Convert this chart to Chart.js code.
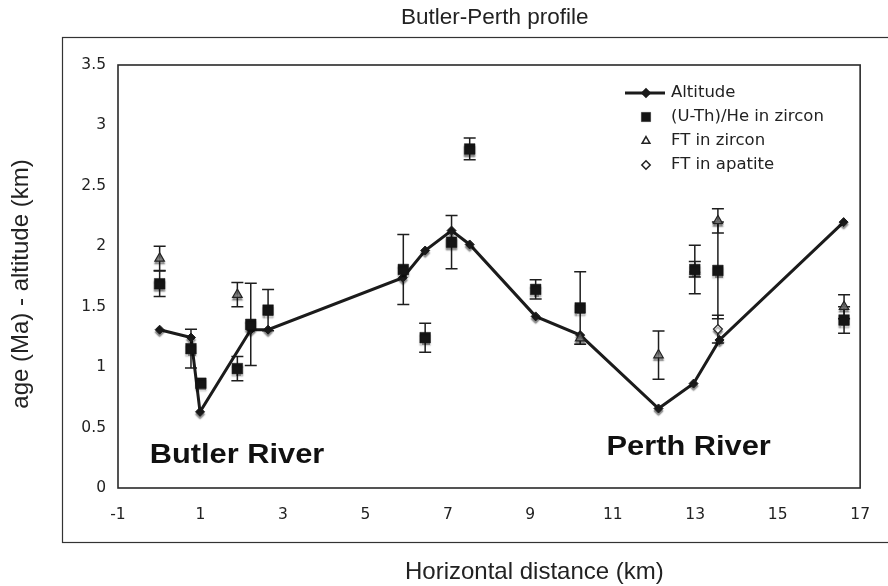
<!DOCTYPE html>
<html><head><meta charset="utf-8">
<script src="https://cdn.jsdelivr.net/npm/chart.js@4/dist/chart.umd.min.js"></script>
<style>html,body{margin:0;padding:0;background:#fff;}#wrap{width:888px;height:586px;}</style>
</head><body><div id="wrap"><canvas id="c" width="888" height="586"></canvas></div>
<script>
// ---------- data ----------
const chartTitle = 'Butler-Perth profile';
const xAxisTitle = 'Horizontal distance (km)';
const yAxisTitle = 'age (Ma) - altitude (km)';
const xTickValues = [-1, 1, 3, 5, 7, 9, 11, 13, 15, 17];
const yTickValues = [0, 0.5, 1, 1.5, 2, 2.5, 3, 3.5];
const seriesNames = ['Altitude', '(U-Th)/He in zircon', 'FT in zircon', 'FT in apatite'];

const altitudeX = [0.01, 0.77, 0.99, 2.22, 2.64, 5.91, 6.45, 7.09, 7.53, 9.13, 10.21, 12.11, 12.96, 13.59, 16.6];
const altitudeY = [1.31, 1.245, 0.63, 1.31, 1.31, 1.74, 1.965, 2.13, 2.015, 1.42, 1.265, 0.658, 0.864, 1.225, 2.2];

const heZirconX   = [0.01, 0.77, 1.01, 1.895, 2.22, 2.64, 5.92, 6.45, 7.09, 7.53, 9.13, 10.21, 12.99, 13.55, 16.61];
const heZirconY   = [1.69, 1.153, 0.867, 0.988, 1.354, 1.472, 1.808, 1.244, 2.034, 2.805, 1.643, 1.49, 1.808, 1.80, 1.39];
const heZirconErr = [0.105, 0.16, 0, 0.1, 0.34, 0.17, 0.29, 0.12, 0.22, 0.09, 0.08, 0.3, 0.2, 0.4, 0.11];

const ftZirconX   = [0.01, 1.895, 10.21, 12.11, 12.99, 13.55, 16.61];
const ftZirconY   = [1.90, 1.60, 1.24, 1.10, 1.81, 2.21, 1.50];
const ftZirconErr = [0.1, 0.1, 0, 0.2, 0.065, 0.1, 0.1];

const ftApatiteX   = [13.55];
const ftApatiteY   = [1.315];
const ftApatiteErr = [0.115];

const riverNames = ['Butler River', 'Perth River'];
const riverAnchorX = [-0.23, 10.85];
const riverAnchorY = [0.207, 0.273];

// ---------- helpers ----------
const pts = (xs, ys) => xs.map((x, i) => ({x: x, y: ys[i]}));
const INK = '#1b1b1b';

const datasets = [
  {label: seriesNames[0], data: pts(altitudeX, altitudeY), showLine: true, borderColor: INK, borderWidth: 3,
   pointStyle: 'rectRot', pointRadius: 4.5, pointBackgroundColor: INK, pointBorderColor: INK, pointBorderWidth: 1, order: 4},
  {label: seriesNames[1], data: pts(heZirconX, heZirconY), errors: heZirconErr,
   pointStyle: 'rect', pointRadius: 7.5, pointBackgroundColor: '#151515', pointBorderColor: '#151515', pointBorderWidth: 0.5, order: 1},
  {label: seriesNames[2], data: pts(ftZirconX, ftZirconY), errors: ftZirconErr,
   pointStyle: 'triangle', pointRadius: 5.5, pointBackgroundColor: 'rgba(150,150,150,0.75)', pointBorderColor: '#222', pointBorderWidth: 1.2, order: 2},
  {label: seriesNames[3], data: pts(ftApatiteX, ftApatiteY), errors: ftApatiteErr,
   pointStyle: 'rectRot', pointRadius: 4.5, pointBackgroundColor: '#fff', pointBorderColor: '#222', pointBorderWidth: 1.2, order: 3}
];

// ---------- plugins ----------
const framePlugin = {
  id: 'frame',
  beforeDraw(chart) {
    const ctx = chart.ctx;
    ctx.save();
    ctx.fillStyle = '#fff';
    ctx.fillRect(0, 0, chart.width, chart.height);
    ctx.strokeStyle = '#333';
    ctx.lineWidth = 1.2;
    ctx.strokeRect(62.5, 37.5, 900, 505);
    ctx.restore();
  }
};

const errorBarPlugin = {
  id: 'errorBars',
  beforeDatasetsDraw(chart) {
    const ctx = chart.ctx, xs = chart.scales.x, ys = chart.scales.y;
    ctx.save();
    ctx.strokeStyle = '#1e1e1e';
    ctx.lineWidth = 1.5;
    chart.data.datasets.forEach(ds => {
      if (!ds.errors) return;
      ds.data.forEach((p, i) => {
        const e = ds.errors[i];
        if (!e) return;
        const px = xs.getPixelForValue(p.x);
        const top = ys.getPixelForValue(p.y + e), bot = ys.getPixelForValue(p.y - e);
        ctx.beginPath();
        ctx.moveTo(px, top); ctx.lineTo(px, bot);
        ctx.moveTo(px - 6, top); ctx.lineTo(px + 6, top);
        ctx.moveTo(px - 6, bot); ctx.lineTo(px + 6, bot);
        ctx.stroke();
      });
    });
    ctx.restore();
  }
};

function withShadow(ctx, fn) {
  ctx.save();
  ctx.shadowColor = 'rgba(0,0,0,0.45)';
  ctx.shadowOffsetX = 0;
  ctx.shadowOffsetY = 2.5;
  ctx.shadowBlur = 1.5;
  fn();
  ctx.restore();
}

const shadowPlugin = {
  id: 'markerShadow',
  beforeDatasetDraw(chart, args) {
    const ctx = chart.ctx, meta = args.meta, area = chart.chartArea;
    if (meta.dataset && chart.data.datasets[args.index].showLine) {
      ctx.save();
      meta.dataset.draw(ctx, area);
      ctx.restore();
    }
    withShadow(ctx, () => meta.data.forEach(el => el.draw(ctx, area)));
    return false;
  }
};

const overlayPlugin = {
  id: 'overlay',
  afterDraw(chart) {
    const ctx = chart.ctx, a = chart.chartArea, xs = chart.scales.x, ys = chart.scales.y;
    ctx.save();
    // plot box
    ctx.strokeStyle = '#2a2a2a';
    ctx.lineWidth = 1.6;
    ctx.strokeRect(a.left, a.top, a.right - a.left, a.bottom - a.top);

    // river annotations
    ctx.fillStyle = '#111';
    ctx.font = 'bold 27px "Liberation Sans", Arial, sans-serif';
    ctx.textBaseline = 'alphabetic';
    ctx.textAlign = 'left';
    riverNames.forEach((t, i) => {
      const px = xs.getPixelForValue(riverAnchorX[i]);
      const py = ys.getPixelForValue(riverAnchorY[i]);
      ctx.save();
      ctx.translate(px, py);
      ctx.scale(1.14, 1);
      ctx.fillText(t, 0, 0);
      ctx.restore();
    });

    // legend
    const lx = 625, ly = 93, step = 24, tx = 671;
    ctx.font = '16.5px "DejaVu Sans", Verdana, sans-serif';
    ctx.textBaseline = 'middle';
    chart.data.datasets.forEach((ds, i) => {
      const y = ly + i * step;
      if (ds.showLine) {
        ctx.strokeStyle = ds.borderColor; ctx.lineWidth = 3;
        ctx.beginPath(); ctx.moveTo(lx, y); ctx.lineTo(lx + 40, y); ctx.stroke();
      }
      const r = ds.pointStyle === 'rect' ? 6.5 : (ds.pointStyle === 'triangle' ? 4.5 : 4.2);
      ctx.fillStyle = ds.pointStyle === 'triangle' ? '#fff' : ds.pointBackgroundColor;
      ctx.strokeStyle = ds.pointBorderColor;
      ctx.lineWidth = ds.pointStyle === 'rect' ? 0.5 : 1.5;
      Chart.helpers.drawPoint(ctx, {pointStyle: ds.pointStyle, radius: r, rotation: 0, borderWidth: ctx.lineWidth}, lx + 21, y);
      ctx.fillStyle = '#222';
      ctx.fillText(ds.label, tx, y);
    });

    // titles
    ctx.fillStyle = '#222';
    ctx.textAlign = 'left';
    ctx.textBaseline = 'middle';
    ctx.font = '22.5px "Liberation Sans", Arial, sans-serif';
    ctx.fillText(chartTitle, 401, 18);
    ctx.font = '24px "Liberation Sans", Arial, sans-serif';
    ctx.fillText(xAxisTitle, 405, 572);
    ctx.textAlign = 'center';
    ctx.save();
    ctx.translate(21, 284);
    ctx.rotate(-Math.PI / 2);
    ctx.fillText(yAxisTitle, 0, 0);
    ctx.restore();
    ctx.restore();
  }
};

// ---------- chart ----------
const tickFont = {family: '"DejaVu Sans", Verdana, sans-serif', size: 15.5};
new Chart(document.getElementById('c'), {
  type: 'scatter',
  data: {datasets: datasets},
  options: {
    responsive: false,
    animation: false,
    devicePixelRatio: 1,
    layout: {padding: {left: 0, right: 22, top: 65, bottom: 0}},
    plugins: {legend: {display: false}, tooltip: {enabled: false}, title: {display: false}},
    scales: {
      x: {
        type: 'linear', min: -1, max: 17,
        afterFit(s) { s.height = 98; },
        afterBuildTicks(s) { s.ticks = xTickValues.map(v => ({value: v})); },
        grid: {display: false, drawTicks: false},
        border: {display: false},
        ticks: {padding: 18, color: '#222', font: tickFont, callback: v => String(v)}
      },
      y: {
        type: 'linear', min: 0, max: 3.5,
        afterFit(s) { s.width = 118; },
        afterBuildTicks(s) { s.ticks = yTickValues.map(v => ({value: v})); },
        grid: {display: false, drawTicks: false},
        border: {display: false},
        ticks: {padding: 12, color: '#222', font: tickFont, callback: v => String(v)}
      }
    }
  },
  plugins: [framePlugin, errorBarPlugin, shadowPlugin, overlayPlugin]
});
</script></body></html>
